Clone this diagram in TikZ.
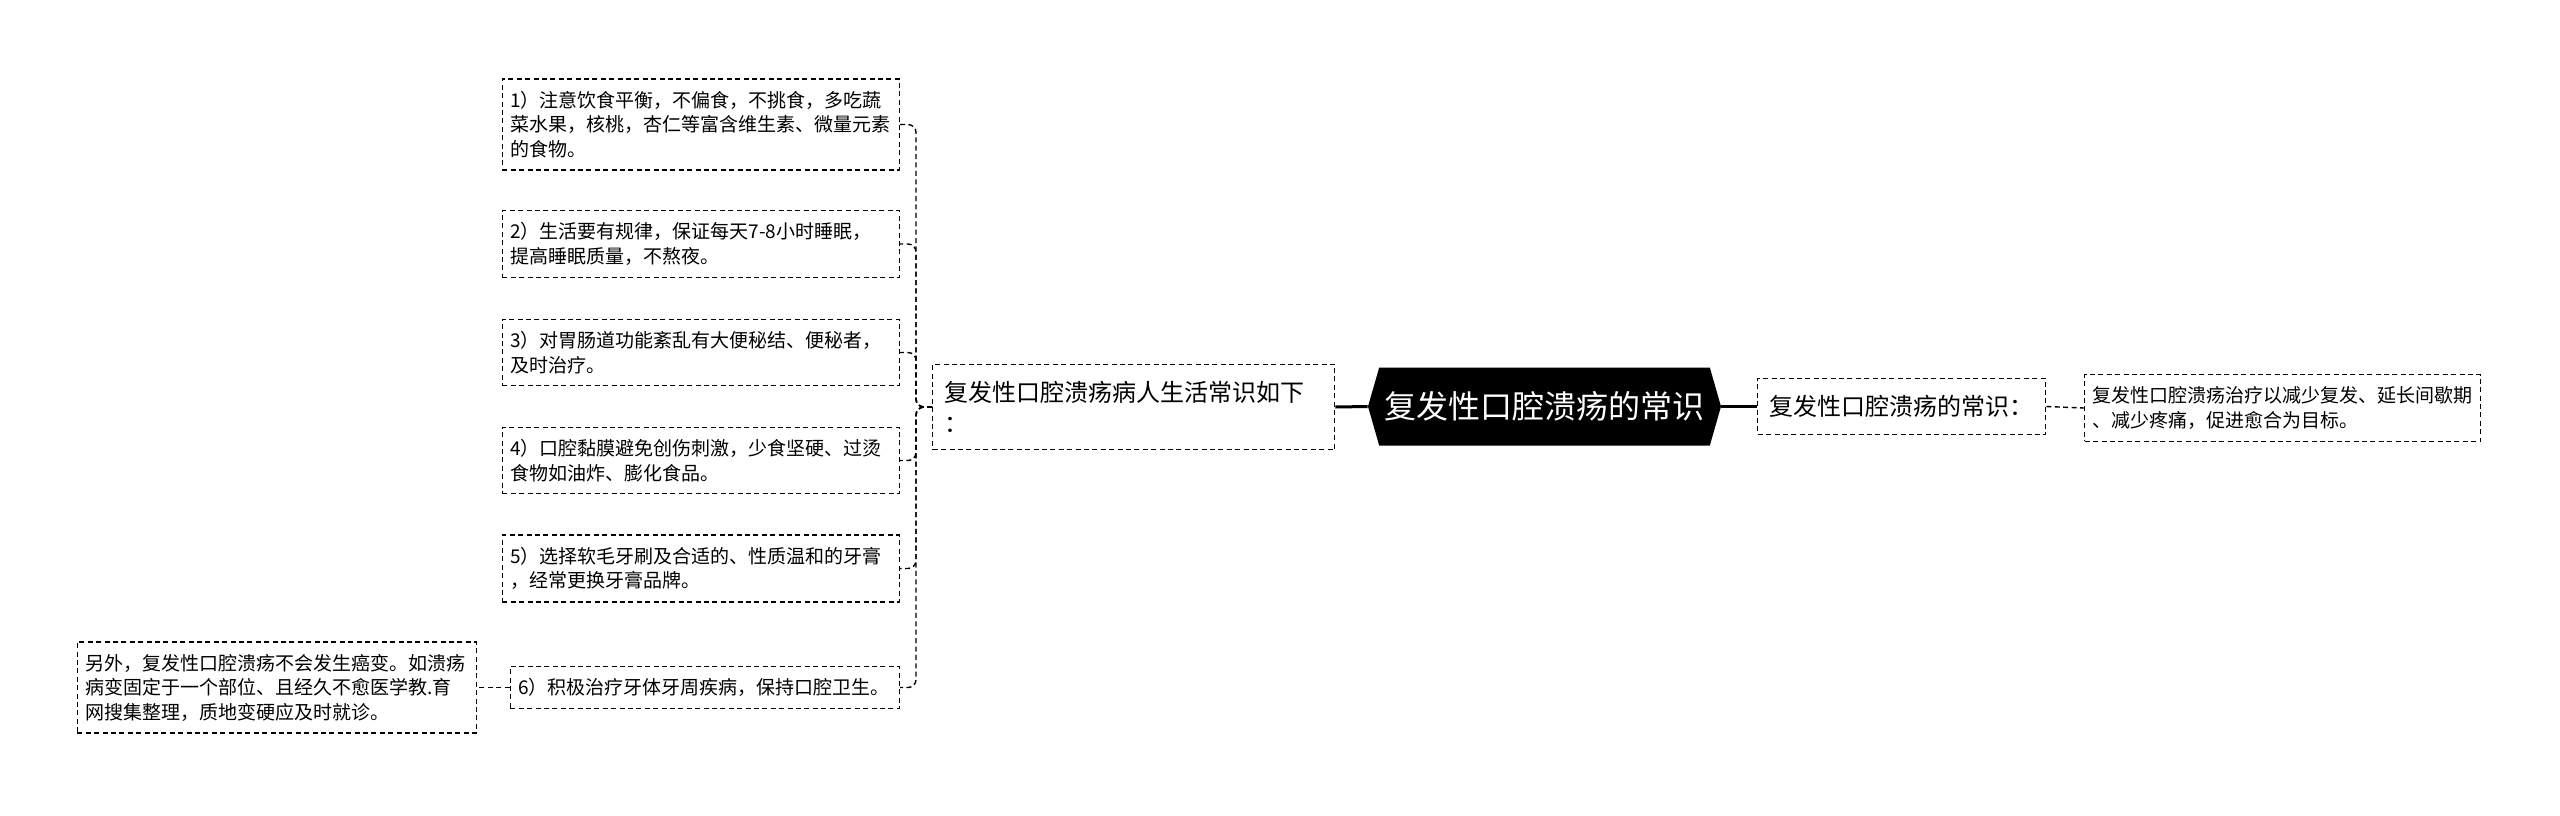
\documentclass[tikz,border=0pt]{standalone}
\usepackage{fontspec}
\setmainfont{Noto Sans CJK SC}
\usetikzlibrary{shapes.symbols}

\begin{document}
\begin{tikzpicture}[x=0.5pt,y=-0.5pt,
  tipbox/.style={draw, dash pattern=on 2.5pt off 1.7pt, line width=0.7pt, fill=white,
    align=left, text width=190.5pt, inner xsep=4pt, inner ysep=6pt,
    font=\fontsize{9.5}{12.25}\selectfont},
  midbox/.style={tipbox, text width=, inner xsep=6pt, inner ysep=8.5pt,
    font=\fontsize{12}{15.5}\selectfont},
  hubbox/.style={signal, signal to=west and east, signal pointer angle=148,
    fill=black, text=white, inner sep=0pt, minimum width=176.5pt,
    minimum height=39pt, font=\fontsize{16}{19}\selectfont},
  dashlink/.style={dash pattern=on 2.5pt off 1.7pt, line width=0.7pt},
  solidlink/.style={line width=1.5pt}]

  \useasboundingbox [fill=white] (0,0) rectangle (2560,815);

  \node (hub) [hubbox] at (1544.5,406.5) {复发性口腔溃疡的常识};

  \node (life) [midbox, text width=189pt, anchor=west] at (932,407)
    {复发性口腔溃疡病人生活常识如下\\：};
  \node (basic) [midbox, anchor=west] at (1757,406.5) {复发性口腔溃疡的常识：};
  \node (goal) [tipbox, text width=190pt, anchor=west] at (2084,408)
    {复发性口腔溃疡治疗以减少复发、延长间歇期\\、减少疼痛，促进愈合为目标。};

  \node (t1) [tipbox, anchor=east] at (900,124.5)
    {1）注意饮食平衡，不偏食，不挑食，多吃蔬\\菜水果，核桃，杏仁等富含维生素、微量元素\\的食物。};
  \node (t2) [tipbox, anchor=east] at (900,244)
    {2）生活要有规律，保证每天7-8小时睡眠，\\提高睡眠质量，不熬夜。};
  \node (t3) [tipbox, anchor=east] at (900,352.5)
    {3）对胃肠道功能紊乱有大便秘结、便秘者，\\及时治疗。};
  \node (t4) [tipbox, anchor=east] at (900,460.5)
    {4）口腔黏膜避免创伤刺激，少食坚硬、过烫\\食物如油炸、膨化食品。};
  \node (t5) [tipbox, anchor=east] at (900,568.5)
    {5）选择软毛牙刷及合适的、性质温和的牙膏\\，经常更换牙膏品牌。};
  \node (t6) [tipbox, text width=186.5pt, anchor=east] at (900,687.5)
    {6）积极治疗牙体牙周疾病，保持口腔卫生。};
  \node (extra) [tipbox, text width=191.5pt, anchor=east] at (477,687.5)
    {另外，复发性口腔溃疡不会发生癌变。如溃疡\\病变固定于一个部位、且经久不愈医学教.育\\网搜集整理，质地变硬应及时就诊。};

  \draw [solidlink] (hub.west) -- (life.east);
  \draw [solidlink] (hub.east) -- (basic.west);
  \draw [dashlink] (basic.east) -- (goal.west);
  \foreach \n in {t1,t2,t3,t4,t5,t6}
    \draw [dashlink, rounded corners=4pt] (life.west) -- ++(-16,0) |- (\n.east);
  \draw [dashlink] (t6.west) -- (extra.east);
\end{tikzpicture}
\end{document}
